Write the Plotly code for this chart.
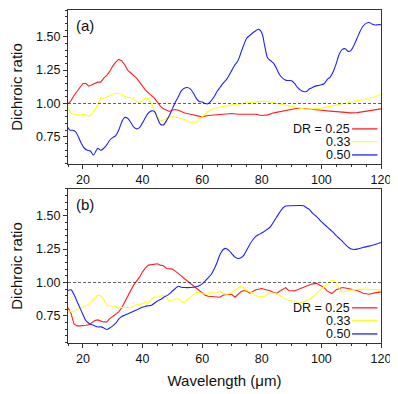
import plotly.graph_objects as go
from plotly.subplots import make_subplots

# ---- panel (a) ----
wl_red_a = [15, 16, 17, 18, 19, 20, 21, 22, 23, 24, 25, 26, 27, 28, 29, 30, 31, 32, 33, 34, 35, 36, 37, 38, 39,
            40, 41, 42, 43, 44, 45, 46, 47, 48, 49, 50, 51, 52, 54, 56, 58, 60, 62, 64, 66, 68, 70, 72, 74, 76,
            78, 80, 82, 84, 86, 88, 90, 92, 94, 96, 98, 100, 102, 104, 106, 108, 110, 112, 114, 116, 118, 120]
red_a = [1.00, 1.02, 1.06, 1.09, 1.12, 1.15, 1.15, 1.13, 1.14, 1.15, 1.16, 1.16, 1.19, 1.21, 1.24, 1.28, 1.31,
         1.33, 1.32, 1.29, 1.25, 1.23, 1.21, 1.19, 1.16, 1.13, 1.10, 1.08, 1.06, 1.04, 1.01, 0.98, 0.96, 0.95,
         0.94, 0.95, 0.955, 0.95, 0.93, 0.92, 0.91, 0.90, 0.91, 0.915, 0.92, 0.92, 0.925, 0.92, 0.92, 0.925,
         0.92, 0.91, 0.915, 0.93, 0.94, 0.95, 0.96, 0.965, 0.963, 0.96, 0.958, 0.95, 0.945, 0.94, 0.935, 0.93,
         0.93, 0.932, 0.938, 0.945, 0.95, 0.96]

wl_yel_a = [15, 16, 17, 18, 19, 20, 21, 22, 23, 24, 25, 26, 27, 28, 29, 30, 31, 32, 33, 34, 35, 36, 37, 38, 39,
            40, 41, 42, 43, 44, 45, 46, 47, 48, 49, 50, 52, 54, 56, 58, 59, 60, 62, 64, 66, 68, 70, 72, 74, 76,
            78, 80, 82, 84, 86, 88, 90, 92, 94, 96, 98, 100, 102, 104, 106, 108, 110, 112, 114, 116, 118, 120]
yel_a = [0.97, 0.93, 0.92, 0.915, 0.914, 0.92, 0.915, 0.906, 0.92, 0.95, 0.99, 1.04, 1.04, 1.05, 1.065, 1.07,
         1.077, 1.075, 1.07, 1.05, 1.045, 1.04, 1.04, 1.015, 1.01, 1.02, 1.04, 1.035, 1.00, 0.94, 0.90, 0.87,
         0.875, 0.89, 0.90, 0.90, 0.895, 0.88, 0.86, 0.86, 0.88, 0.90, 0.94, 0.965, 0.975, 0.98, 0.99, 0.995,
         1.0, 1.01, 1.015, 1.018, 1.015, 1.005, 0.995, 0.985, 0.975, 0.965, 0.96, 0.958, 0.96, 0.965, 0.975,
         0.985, 0.995, 1.005, 1.012, 1.02, 1.03, 1.038, 1.05, 1.07]

wl_blu_a = [15, 15.7, 16.5, 17.5, 18.5, 19.5, 20.5, 21.5, 22.5, 23.5, 24.5, 25, 26, 27, 28, 29, 30, 31, 32, 33,
            34, 35, 36, 37, 38, 39, 40, 41, 42, 43, 44, 45, 46, 47, 48, 49, 50, 51, 52, 53, 54, 55, 56, 57, 58,
            59, 60, 61, 62, 63, 64, 65, 66, 67, 68, 69, 70, 71, 72, 73, 74, 75, 76, 77, 78, 79, 80, 81, 82, 83,
            84, 85, 86, 87, 88, 89, 90, 91, 92, 93, 94, 95, 96, 97, 98, 99, 100, 101, 102, 103, 104, 105, 106,
            107, 108, 109, 110, 111, 112, 113, 114, 115, 116, 117, 118, 119, 120]
blu_a = [0.82, 0.80, 0.80, 0.79, 0.75, 0.70, 0.665, 0.65, 0.645, 0.614, 0.65, 0.665, 0.65, 0.665, 0.69, 0.725,
         0.745, 0.76, 0.80, 0.86, 0.895, 0.89, 0.86, 0.825, 0.81, 0.82, 0.855, 0.895, 0.93, 0.945, 0.94, 0.89,
         0.845, 0.84, 0.87, 0.91, 0.96, 1.01, 1.05, 1.095, 1.115, 1.12, 1.11, 1.08, 1.04, 1.015, 1.012, 1.0,
         0.998, 1.02, 1.05, 1.09, 1.12, 1.15, 1.175, 1.21, 1.25, 1.29, 1.32, 1.38, 1.44, 1.49, 1.51, 1.53,
         1.545, 1.556, 1.53, 1.43, 1.34, 1.32, 1.30, 1.26, 1.215, 1.19, 1.175, 1.172, 1.17, 1.15, 1.12, 1.10,
         1.09, 1.09, 1.11, 1.12, 1.13, 1.135, 1.14, 1.15, 1.18, 1.20, 1.24, 1.30, 1.37, 1.405, 1.41, 1.39,
         1.40, 1.44, 1.49, 1.54, 1.58, 1.60, 1.606, 1.595, 1.588, 1.59, 1.59]

# ---- panel (b) ----
wl_red_b = [15, 16, 17, 18, 19, 20, 21, 22, 23, 24, 25, 26, 27, 28, 29, 30, 31, 32, 33, 34, 35, 36, 37, 38, 39,
            40, 41, 42, 43, 44, 45, 46, 47, 48, 49, 50, 51, 52, 53, 54, 55, 56, 57, 58, 59, 60, 61, 62, 64, 66,
            67, 68, 70, 71, 72, 73, 74, 75, 76, 77, 78, 80, 81, 83, 84, 85, 86, 88, 89, 91, 93, 95, 97, 98.5,
            100, 101, 102, 103.5, 105, 107, 109, 112, 114, 116, 118, 120]
red_b = [0.81, 0.77, 0.69, 0.675, 0.675, 0.675, 0.68, 0.683, 0.70, 0.715, 0.72, 0.71, 0.705, 0.705, 0.73, 0.745,
         0.76, 0.78, 0.81, 0.855, 0.90, 0.94, 0.98, 1.01, 1.04, 1.08, 1.11, 1.13, 1.135, 1.14, 1.14, 1.13,
         1.125, 1.105, 1.10, 1.10, 1.085, 1.07, 1.05, 1.03, 1.012, 0.99, 0.97, 0.955, 0.94, 0.92, 0.905, 0.897,
         0.895, 0.89, 0.905, 0.91, 0.91, 0.89, 0.91, 0.93, 0.94, 0.935, 0.92, 0.935, 0.945, 0.955, 0.95, 0.937,
         0.925, 0.92, 0.935, 0.962, 0.94, 0.937, 0.955, 0.975, 0.99, 0.993, 0.975, 0.96, 0.935, 0.917, 0.945,
         0.962, 0.955, 0.94, 0.92, 0.912, 0.922, 0.93]

wl_yel_b = [15, 16, 17, 18, 19, 20, 21, 22, 23, 24, 25, 26, 27, 28, 29, 30, 31, 32, 33, 34, 35, 36, 37, 38, 39,
            40, 41, 42, 43, 44, 45, 46, 47, 48, 49, 50, 51, 52, 53, 54, 55, 56, 57, 58, 59, 60, 61, 62, 63, 64,
            65, 66, 67, 68, 69, 70, 71, 72, 73, 74, 75, 76, 77, 78, 80, 81, 82, 84, 86, 88, 90, 92, 93, 94, 96,
            98, 99, 100, 101, 102, 103, 104, 105, 106, 107, 108.5, 110.5, 113, 116, 120]
yel_b = [0.79, 0.78, 0.785, 0.80, 0.81, 0.817, 0.825, 0.84, 0.86, 0.885, 0.905, 0.90, 0.87, 0.83, 0.825, 0.822,
         0.822, 0.808, 0.815, 0.815, 0.815, 0.81, 0.825, 0.835, 0.835, 0.84, 0.855, 0.845, 0.875, 0.892, 0.89,
         0.893, 0.905, 0.89, 0.86, 0.865, 0.87, 0.88, 0.86, 0.848, 0.87, 0.89, 0.905, 0.925, 0.925, 0.917,
         0.915, 0.91, 0.93, 0.918, 0.925, 0.935, 0.92, 0.912, 0.915, 0.93, 0.94, 0.955, 0.972, 0.96, 0.94, 0.93,
         0.92, 0.90, 0.892, 0.895, 0.915, 0.92, 0.905, 0.875, 0.862, 0.852, 0.847, 0.855, 0.875, 0.91, 0.93,
         0.955, 0.975, 0.995, 1.01, 1.017, 0.995, 0.955, 0.93, 0.935, 0.945, 0.95, 0.948, 0.945]

wl_blu_b = [15, 16, 17, 18, 19, 20, 21, 22, 23, 24, 25, 26, 27, 28, 29, 30, 31, 32, 33, 34, 35, 36, 37, 38, 39,
            40, 41, 42, 43, 44, 45, 46, 47, 48, 49, 50, 51, 52, 53, 54, 56, 58, 59, 60, 61, 62, 63, 64, 65, 66,
            67, 68, 69, 70, 71, 72, 73, 74, 75, 76, 77, 78, 79, 80, 81, 82, 83, 84, 85, 86, 87, 88, 90, 92, 94,
            95, 96, 97, 98, 99, 100, 101, 102, 103, 104, 105, 106, 107, 108, 109, 110, 111, 112, 114, 116, 118,
            120]
blu_b = [0.94, 0.945, 0.91, 0.86, 0.81, 0.76, 0.715, 0.695, 0.683, 0.675, 0.667, 0.668, 0.66, 0.648, 0.66,
         0.675, 0.695, 0.725, 0.745, 0.755, 0.765, 0.775, 0.785, 0.795, 0.805, 0.815, 0.822, 0.826, 0.83, 0.845,
         0.862, 0.872, 0.888, 0.90, 0.915, 0.935, 0.955, 0.972, 0.965, 0.962, 0.962, 0.968, 0.975, 0.99, 1.01,
         1.035, 1.06, 1.10, 1.15, 1.21, 1.245, 1.255, 1.24, 1.215, 1.19, 1.18, 1.185, 1.205, 1.245, 1.285, 1.32,
         1.345, 1.36, 1.37, 1.385, 1.40, 1.42, 1.455, 1.49, 1.525, 1.555, 1.572, 1.575, 1.576, 1.575, 1.56,
         1.545, 1.52, 1.50, 1.48, 1.455, 1.435, 1.415, 1.395, 1.375, 1.35, 1.33, 1.31, 1.285, 1.265, 1.25,
         1.247, 1.25, 1.262, 1.272, 1.285, 1.30]

dr_labels = ["DR = 0.25", "0.33", "0.50"]
colors = ["#ff2020", "#ffff20", "#2020ff"]
panel_labels = ["(a)", "(b)"]

FONT = "Liberation Sans, Arial, sans-serif"

fig = make_subplots(rows=2, cols=1, vertical_spacing=0.075)

panels = [
    [(wl_red_a, red_a), (wl_yel_a, yel_a), (wl_blu_a, blu_a)],
    [(wl_red_b, red_b), (wl_yel_b, yel_b), (wl_blu_b, blu_b)],
]
for r, series in enumerate(panels, start=1):
    for (x, y), c, name in zip(series, colors, dr_labels):
        fig.add_trace(go.Scatter(x=x, y=y, mode="lines", name=name,
                                 line=dict(color=c, width=1.1,
                                           shape="spline" if c == colors[2] else "linear"),
                                 showlegend=False), row=r, col=1)
    # dashed line at ratio = 1
    fig.add_shape(type="line", x0=15, x1=120, y0=1, y1=1, xref="x%d" % r if r > 1 else "x",
                  yref="y%d" % r if r > 1 else "y",
                  line=dict(color="#222", width=0.7, dash="3px,2px"))

# hand made legends (text then line sample, like the original)
leg_y = [0.81, 0.715, 0.615]
for r in (1, 2):
    xr = "x" if r == 1 else "x2"
    yr = "y" if r == 1 else "y2"
    for lab, c, yy in zip(dr_labels, colors, leg_y):
        fig.add_annotation(x=110.2, y=yy, xref=xr, yref=yr, text=lab, showarrow=False,
                           xanchor="right", yanchor="middle",
                           font=dict(size=12.5, family=FONT, color="#111"))
        fig.add_shape(type="line", x0=110.3, x1=118.8, y0=yy, y1=yy, xref=xr, yref=yr,
                      line=dict(color=c, width=1.3))
    fig.add_annotation(x=0.02, y=0.90, xref=xr + " domain", yref=yr + " domain",
                       text=panel_labels[r - 1], showarrow=False, xanchor="left",
                       yanchor="middle", font=dict(size=15, family=FONT, color="#111"))

axis_common = dict(showline=True, linecolor="#333", linewidth=1.2, mirror=True,
                   ticks="outside", ticklen=4, tickcolor="#333", showgrid=False, zeroline=False,
                   tickfont=dict(size=12.5, family=FONT, color="#111"))
fig.update_xaxes(range=[15, 120], dtick=20, tick0=0,
                 minor=dict(dtick=5, ticks="outside", ticklen=2, tickcolor="#333"), **axis_common)
fig.update_yaxes(range=[0.547, 1.70], dtick=0.25, tick0=0, tickformat=".2f",
                 minor=dict(dtick=0.05, ticks="outside", ticklen=2, tickcolor="#333"),
                 title=dict(text="Dichroic ratio", font=dict(size=15, family=FONT, color="#111"),
                            standoff=15), **axis_common)
fig.update_xaxes(title=dict(text="Wavelength (\u03bcm)", font=dict(size=15, family=FONT, color="#111"),
                            standoff=10), row=2, col=1)

# page body has an 8px margin, so the figure is a bit smaller than the window
fig.update_layout(
    width=390, height=386,
    margin=dict(l=60, r=17, t=2, b=51),
    paper_bgcolor="white", plot_bgcolor="white",
    xaxis=dict(domain=[0, 1]), xaxis2=dict(domain=[0, 1]),
    yaxis=dict(domain=[0.5375, 1.0]), yaxis2=dict(domain=[0.0, 0.4625]),
)

fig.write_html("out.html")
